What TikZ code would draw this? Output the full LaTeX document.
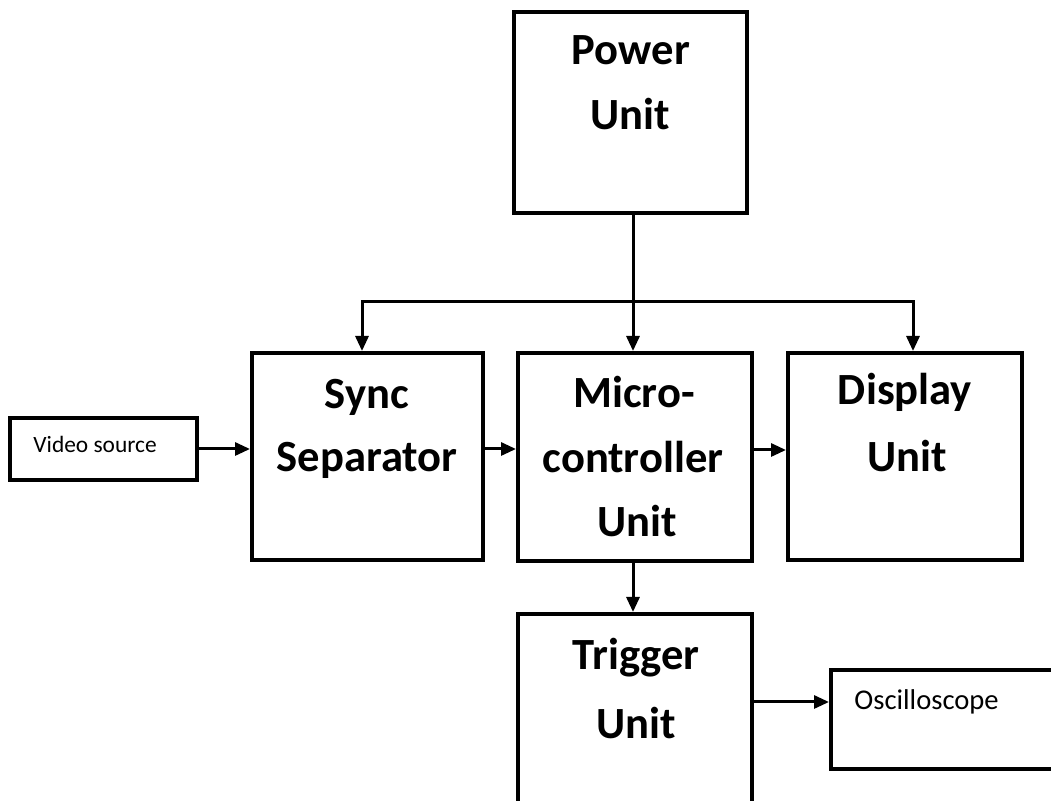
\documentclass[tikz,border=0pt]{standalone}
\usepackage{fontspec}
\setmainfont{Carlito}
\usetikzlibrary{calc}
\usetikzlibrary{arrows.meta}

\begin{document}
\begin{tikzpicture}[x=0.5pt,y=-0.5pt,
  blk/.style={draw,line width=2pt,inner sep=0pt},
  ttl/.style={font=\fontsize{22.3}{26}\selectfont\bfseries,inner sep=0pt,anchor=base},
  lbl/.style={inner sep=0pt,anchor=base west},
  arr/.style={line width=1.5pt,-{Triangle[length=7.5pt,width=6.5pt]}}]
\def\u{0.5pt}
\useasboundingbox (0,0) rectangle (1051,801);
\clip (0,0) rectangle (1051,801);

% blocks
\node[blk,minimum width=233*\u,minimum height=201*\u] (power) at (630.5,112.5) {};
\node[blk,minimum width=231*\u,minimum height=207*\u] (sync) at (367.5,456.5) {};
\node[blk,minimum width=234*\u,minimum height=208*\u] (micro) at (635,457) {};
\node[blk,minimum width=234*\u,minimum height=207*\u] (disp) at (905,456.5) {};
\node[blk,minimum width=234*\u,minimum height=216*\u] (trig) at (635,722) {};
\node[blk,minimum width=187*\u,minimum height=62*\u] (video) at (103.5,449) {};
\node[blk,minimum width=259*\u,minimum height=99*\u] (osc) at (960.5,719.5) {};

% texts
\node[ttl] (powerA) at (631,65) {Power};
\node[ttl] (powerB) at (630,130) {Unit};
\node[ttl] (syncA) at (367,409) {Sync};
\node[ttl] (syncB) at (367,472) {Separator};
\node[ttl] (microA) at (634,408) {Micro-};
\node[ttl] (microB) at (633,473) {controller};
\node[ttl] (microC) at (637,537) {Unit};
\node[ttl] (dispA) at (905,405) {Display};
\node[ttl] (dispB) at (907,472) {Unit};
\node[ttl] (trigA) at (636,670) {Trigger};
\node[ttl] (trigB) at (636,739) {Unit};
\node[lbl,font=\fontsize{11.7}{14}\selectfont] (videoA) at (33,453) {Video source};
\node[lbl,font=\fontsize{14.3}{17}\selectfont] (oscA) at (854,710) {Oscilloscope};

% power bus
\coordinate (mid) at (633,302);
\coordinate (busL) at (362,302);
\coordinate (busR) at (913,302);
\draw[arr] (power.south -| mid) -- (mid |- micro.north);
\draw[arr] (mid) -- (busL) -- (busL |- sync.north);
\draw[arr] (mid) -- (busR) -- (busR |- disp.north);

% signal path
\draw[arr] (video.east) -- (sync.west |- video.east);
\draw[arr] (sync.east |- video.east) -- (micro.west |- video.east);
\draw[arr] ($(micro.east)+(0,-7)$) coordinate (m1) -- (disp.west |- m1);
\draw[arr] (micro.south -| mid) -- (trig.north -| mid);
\draw[arr] ($(trig.east)+(0,-20)$) coordinate (t1) -- (osc.west |- t1);
\end{tikzpicture}
\end{document}
